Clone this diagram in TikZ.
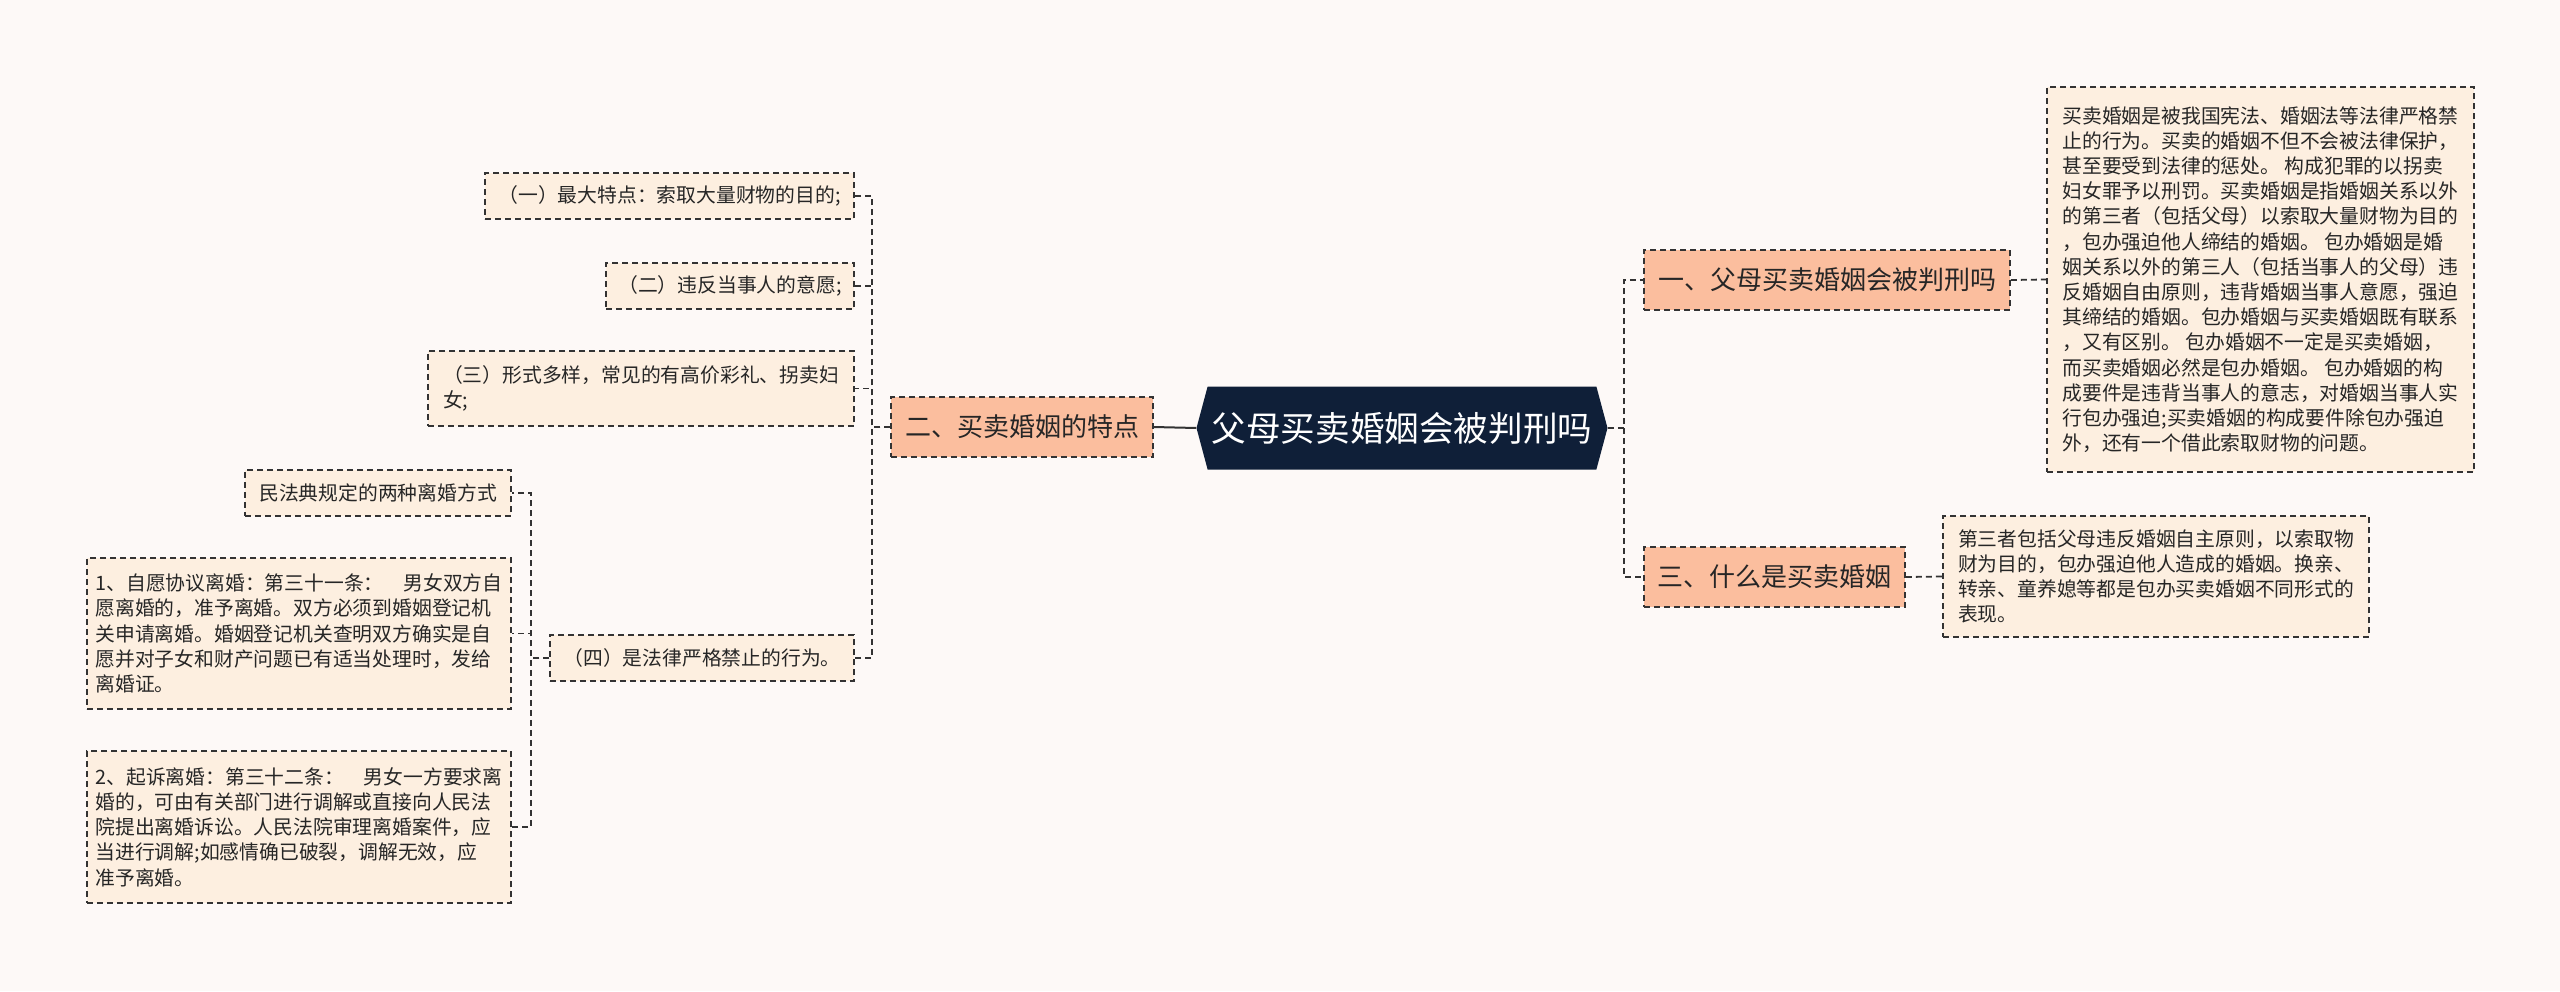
\documentclass[tikz,border=0pt]{standalone}
\usepackage{fontspec}
\setmainfont{Noto Sans CJK SC}
\usetikzlibrary{shapes.symbols}
\definecolor{bg}{HTML}{FDF9F7}
\definecolor{leaf}{HTML}{FDEFE0}
\definecolor{lone}{HTML}{FBBE9E}
\definecolor{rootc}{HTML}{0F1F38}
\definecolor{ln}{HTML}{333333}
\begin{document}
\begin{tikzpicture}[x=0.5pt,y=-0.5pt,
 box/.style={draw=ln,dashed,line width=0.9pt,dash pattern=on 3pt off 2pt,inner sep=0pt},
 leafb/.style={box,fill=leaf,font=\fontsize{9.9}{12.6}\selectfont,align=left,text=black!85},
 l1/.style={box,fill=lone,font=\fontsize{13}{16}\selectfont,text=black!85},
 con/.style={ln,line width=0.9pt,dash pattern=on 3pt off 2pt},
]
\fill[bg] (0,0) rectangle (2560,991);
\useasboundingbox (0,0) rectangle (2560,991);
\node[shape=signal,signal to=east and west,signal pointer angle=150,fill=rootc,text=white,font=\fontsize{17.3}{20}\selectfont,minimum width=411\pgflinewidth*0+205.5pt,minimum height=41.5pt,inner sep=0pt] (root) at (1402,428) {父母买卖婚姻会被判刑吗};
\node[l1,minimum width=183pt,minimum height=30pt] (a) at (1827,280) {一、父母买卖婚姻会被判刑吗};
\node[l1,minimum width=130.5pt,minimum height=30pt] (c) at (1774.5,577) {三、什么是买卖婚姻};
\node[l1,minimum width=131pt,minimum height=30pt] (b) at (1022,427) {二、买卖婚姻的特点};
\node[leafb,minimum width=213.5pt,minimum height=192.5pt] (ta) at (2260.5,279.5) {买卖婚姻是被我国宪法、婚姻法等法律严格禁\\止的行为。买卖的婚姻不但不会被法律保护，\\甚至要受到法律的惩处。 构成犯罪的以拐卖\\妇女罪予以刑罚。买卖婚姻是指婚姻关系以外\\的第三者（包括父母）以索取大量财物为目的\\，包办强迫他人缔结的婚姻。 包办婚姻是婚\\姻关系以外的第三人（包括当事人的父母）违\\反婚姻自由原则，违背婚姻当事人意愿，强迫\\其缔结的婚姻。包办婚姻与买卖婚姻既有联系\\，又有区别。 包办婚姻不一定是买卖婚姻，\\而买卖婚姻必然是包办婚姻。 包办婚姻的构\\成要件是违背当事人的意志，对婚姻当事人实\\行包办强迫;买卖婚姻的构成要件除包办强迫\\外，还有一个借此索取财物的问题。};
\node[leafb,minimum width=213pt,minimum height=60.5pt] (tc) at (2156,576.5) {第三者包括父母违反婚姻自主原则，以索取物\\财为目的，包办强迫他人造成的婚姻。换亲、\\转亲、童养媳等都是包办买卖婚姻不同形式的\\表现。};
\node[leafb,minimum width=184.5pt,minimum height=23pt] (b1) at (669.5,196) {（一）最大特点：索取大量财物的目的;};
\node[leafb,minimum width=124pt,minimum height=23pt] (b2) at (730,286) {（二）违反当事人的意愿;};
\node[leafb,minimum width=213pt,minimum height=37.5pt] (b3) at (641,388.5) {（三）形式多样，常见的有高价彩礼、拐卖妇\\女;};
\node[leafb,minimum width=152pt,minimum height=23pt] (b4) at (702,658) {（四）是法律严格禁止的行为。};
\node[leafb,minimum width=133pt,minimum height=23pt] (d1) at (378,493) {民法典规定的两种离婚方式};
\node[leafb,minimum width=212pt,minimum height=75.5pt] (d2) at (299,633.5) {1、自愿协议离婚：第三十一条：　男女双方自\\愿离婚的，准予离婚。双方必须到婚姻登记机\\关申请离婚。婚姻登记机关查明双方确实是自\\愿并对子女和财产问题已有适当处理时，发给\\离婚证。};
\node[leafb,minimum width=212pt,minimum height=76pt] (d3) at (299,827) {2、起诉离婚：第三十二条：　男女一方要求离\\婚的，可由有关部门进行调解或直接向人民法\\院提出离婚诉讼。人民法院审理离婚案件，应\\当进行调解;如感情确已破裂，调解无效，应\\准予离婚。};
\draw[ln,line width=1pt] (root.west) -- (b.east);
\draw[con] (root.east) -- (1624,428) |- (a.west);
\draw[con] (1624,428) |- (c.west);
\draw[con] (a.east) -- (ta.west);
\draw[con] (c.east) -- (tc.west);
\foreach \n in {b1,b2,b3,b4} \draw[con] (b.west) -- (872,427) |- (\n.east);
\foreach \n in {d1,d2,d3} \draw[con] (b4.west) -- (531,658) |- (\n.east);
\end{tikzpicture}
\end{document}
